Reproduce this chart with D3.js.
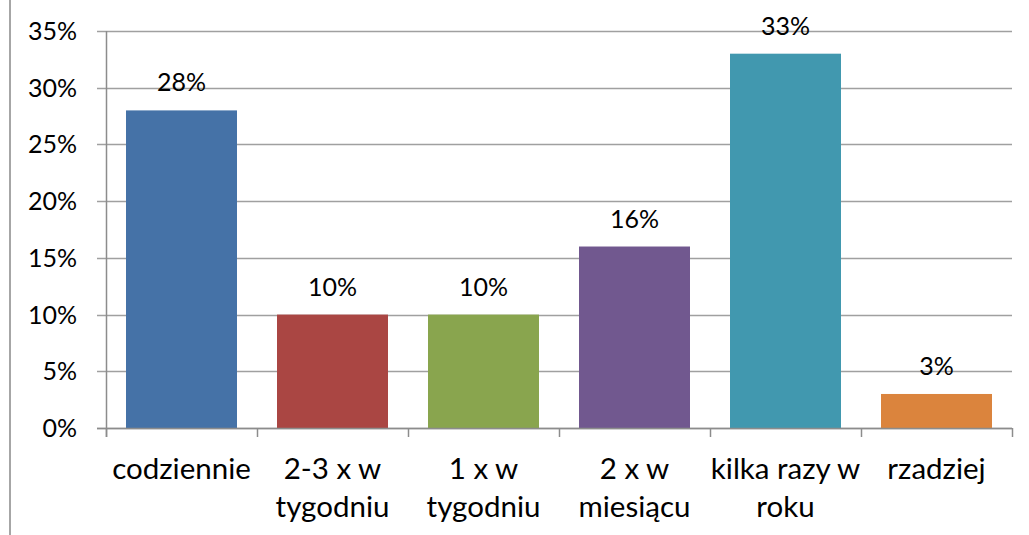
<!DOCTYPE html>
<html>
<head>
<meta charset="utf-8">
<script src="https://cdn.jsdelivr.net/npm/d3@7"></script>
<style>
  body { margin: 0; background: #fff; }
  text { font-family: Lato, "Open Sans", sans-serif; fill: #000; }
</style>
</head>
<body>
<div class="chart"></div>
<script>
// data
var categories = ["codziennie", "2-3 x w tygodniu", "1 x w tygodniu", "2 x w miesiącu", "kilka razy w roku", "rzadziej"];
var labelLines = [["codziennie"], ["2-3 x w", "tygodniu"], ["1 x w", "tygodniu"], ["2 x w", "miesiącu"], ["kilka razy w", "roku"], ["rzadziej"]];
var values = [28, 10, 10, 16, 33, 3];
var colors = ["#4572A7", "#AA4643", "#89A54E", "#71588F", "#4198AF", "#DB843D"];
var yTicks = [0, 5, 10, 15, 20, 25, 30, 35];

var svgWidth = 1029;
var svgHeight = 535;

var margin = { top: 31, right: 17, bottom: 107, left: 106 };
var width = svgWidth - margin.left - margin.right;
var height = svgHeight - margin.top - margin.bottom;

var svg = d3.select(".chart")
  .append("svg")
  .attr("width", svgWidth)
  .attr("height", svgHeight);

// left chart border
svg.append("line")
  .attr("x1", 10).attr("x2", 10)
  .attr("y1", 0).attr("y2", svgHeight)
  .attr("stroke", "#a6a6a6")
  .attr("stroke-width", 2);

var chartGroup = svg.append("g")
  .attr("transform", `translate(${margin.left}, ${margin.top})`);

var xScale = d3.scaleBand()
  .domain(categories)
  .range([0, width])
  .paddingInner(0.265)
  .paddingOuter(0.1325);

var bandScale = d3.scaleBand()
  .domain(categories)
  .range([0, width]);

var yScale = d3.scaleLinear()
  .domain([0, 35])
  .range([height, 0]);

// gridlines + y ticks
chartGroup.append("g")
  .selectAll("line")
  .data(yTicks)
  .enter()
  .append("line")
  .attr("x1", -9)
  .attr("x2", width)
  .attr("y1", d => Math.round(yScale(d)) + 0.5)
  .attr("y2", d => Math.round(yScale(d)) + 0.5)
  .attr("stroke", "#a0a0a0")
  .attr("stroke-width", 1.5);

chartGroup.append("g")
  .selectAll("text")
  .data(yTicks)
  .enter()
  .append("text")
  .attr("x", -29)
  .attr("y", d => yScale(d))
  .attr("dy", "0.36em")
  .attr("text-anchor", "end")
  .style("font-size", "25px")
  .text(d => d + "%");

// bars
chartGroup.selectAll("rect")
  .data(values)
  .enter()
  .append("rect")
  .attr("x", (d, i) => xScale(categories[i]))
  .attr("y", d => yScale(d))
  .attr("width", xScale.bandwidth())
  .attr("height", d => height - yScale(d))
  .attr("fill", (d, i) => colors[i]);

// value labels
chartGroup.append("g")
  .selectAll("text")
  .data(values)
  .enter()
  .append("text")
  .attr("x", (d, i) => xScale(categories[i]) + xScale.bandwidth() / 2)
  .attr("y", d => yScale(d) - 19)
  .attr("text-anchor", "middle")
  .style("font-size", "25px")
  .text(d => d + "%");

// y axis line
chartGroup.append("line")
  .attr("x1", 0.5).attr("x2", 0.5)
  .attr("y1", 0).attr("y2", height + 9)
  .attr("stroke", "#8c8c8c")
  .attr("stroke-width", 1.5);

// x axis line and category ticks
chartGroup.append("line")
  .attr("x1", -9).attr("x2", width)
  .attr("y1", height + 0.5).attr("y2", height + 0.5)
  .attr("stroke", "#8c8c8c")
  .attr("stroke-width", 1.5);

var tickPos = categories.map(c => bandScale(c)).concat([width]);
chartGroup.append("g")
  .selectAll("line")
  .data(tickPos)
  .enter()
  .append("line")
  .attr("x1", d => d + 0.5).attr("x2", d => d + 0.5)
  .attr("y1", height).attr("y2", height + 9)
  .attr("stroke", "#8c8c8c")
  .attr("stroke-width", 1.5);

// category labels
var catLabels = chartGroup.append("g")
  .selectAll("text")
  .data(labelLines)
  .enter()
  .append("text")
  .attr("text-anchor", "middle")
  .style("font-size", "29.5px")
  .attr("transform", (d, i) => `translate(${bandScale(categories[i]) + bandScale.bandwidth() / 2}, ${height + 51})`);

catLabels.selectAll("tspan")
  .data(d => d)
  .enter()
  .append("tspan")
  .attr("x", 0)
  .attr("y", (d, i) => i * 38)
  .text(d => d);
</script>
</body>
</html>
